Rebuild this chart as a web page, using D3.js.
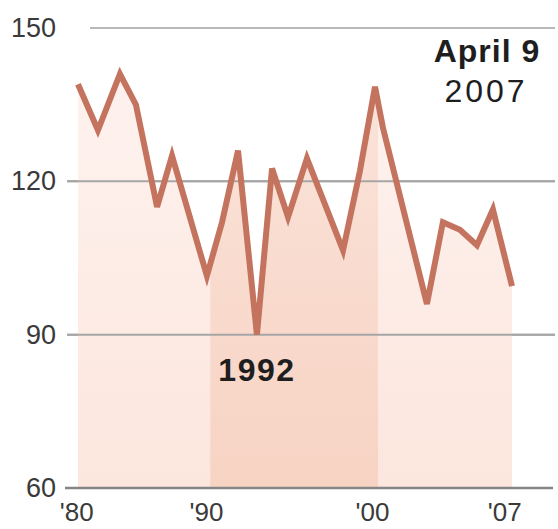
<!DOCTYPE html>
<html>
<head>
<meta charset="utf-8">
<script src="https://cdn.jsdelivr.net/npm/d3@7"></script>
<style>
  html, body { margin: 0; padding: 0; background: #ffffff; }
  svg { display: block; }
  text { font-family: "Liberation Sans", Arial, sans-serif; }
</style>
</head>
<body>
<svg id="chart" width="558" height="529"></svg>
<script>
// Index readings (decimal year, value)
const years  = [1982.0, 1983.16, 1984.44, 1985.37, 1986.6, 1987.47, 1989.5, 1990.38, 1991.31, 1992.41,
                1993.29, 1994.22, 1995.32, 1997.42, 1998.4, 1999.28, 1999.74, 2002.3, 2003.23, 2004.22,
                2005.21, 2006.14, 2007.25];
const values = [139, 130, 141, 135, 115, 125, 101.5, 112, 126, 90,
                122.5, 113, 124.5, 106.5, 122, 138.5, 130.5, 96, 112, 110.5,
                107.5, 114.5, 99.5];

// Highlighted period
const bandYears = [1989.7, 1999.45];

// Axis ticks
const yTicks = [60, 90, 120, 150];
const xTickYears  = [1981.9, 1989.45, 1999.1, 2006.8];
const xTickLabels = ["'80", "'90", "'00", "'07"];

// Annotations
const lowLabel = "1992";
const lowIndex = 9;
const dateLines = ["April 9", "2007"];

const data = years.map((yr, i) => ({ year: yr, value: values[i] }));

const svg = d3.select("#chart");

const x = d3.scaleLinear().domain([years[0], years[years.length - 1]]).range([78, 512]);
const y = d3.scaleLinear().domain([60, 150]).range([488, 28]);

// Gradients for the area fill
const defs = svg.append("defs");
const g1 = defs.append("linearGradient").attr("id", "paleFill").attr("x1", 0).attr("y1", 0).attr("x2", 0).attr("y2", 1);
g1.append("stop").attr("offset", "0%").attr("stop-color", "#fef2ee");
g1.append("stop").attr("offset", "100%").attr("stop-color", "#fce6de");
const g2 = defs.append("linearGradient").attr("id", "bandFill").attr("x1", 0).attr("y1", 0).attr("x2", 0).attr("y2", 1);
g2.append("stop").attr("offset", "0%").attr("stop-color", "#fbe5dc");
g2.append("stop").attr("offset", "100%").attr("stop-color", "#f7d3c3");

const area = d3.area()
  .x(d => x(d.year))
  .y0(y(60))
  .y1(d => y(d.value));

defs.append("clipPath").attr("id", "areaClip")
  .append("path").attr("d", area(data));

// Gridlines
svg.append("g").selectAll("line")
  .data(yTicks.filter(t => t !== 60))
  .join("line")
  .attr("x1", d => d === 150 ? 90 : 67)
  .attr("x2", 555)
  .attr("y1", d => y(d))
  .attr("y2", d => y(d))
  .attr("stroke", d => d === 150 ? "#b8b8b8" : "#a6a6a6")
  .attr("stroke-width", 2);

// Area under the line
svg.append("path")
  .attr("d", area(data))
  .attr("fill", "url(#paleFill)");

// Highlighted period, only below the line
svg.append("rect")
  .attr("clip-path", "url(#areaClip)")
  .attr("x", x(bandYears[0]))
  .attr("width", x(bandYears[1]) - x(bandYears[0]))
  .attr("y", y(150))
  .attr("height", y(60) - y(150))
  .attr("fill", "url(#bandFill)");

// Gridlines over the fill
svg.append("g").selectAll("line")
  .data(yTicks.filter(t => t !== 60 && t !== 150))
  .join("line")
  .attr("x1", 67)
  .attr("x2", 555)
  .attr("y1", d => y(d))
  .attr("y2", d => y(d))
  .attr("stroke", "#a6a6a6")
  .attr("stroke-width", 2);

// Baseline
svg.append("line")
  .attr("x1", 65).attr("x2", 553)
  .attr("y1", y(60)).attr("y2", y(60))
  .attr("stroke", "#858585")
  .attr("stroke-width", 2.5);

// Index line
svg.append("path")
  .datum(data)
  .attr("d", d3.line().x(d => x(d.year)).y(d => y(d.value)))
  .attr("fill", "none")
  .attr("stroke", "#c4735f")
  .attr("stroke-width", 6)
  .attr("stroke-linejoin", "miter")
  .attr("stroke-linecap", "butt");

// Y axis labels
const yAxis = d3.axisLeft(y).tickValues(yTicks).tickSize(0).tickPadding(0).tickFormat(d3.format("d"));
svg.append("g")
  .attr("transform", "translate(56,0)")
  .call(yAxis)
  .call(g => g.select(".domain").remove())
  .call(g => g.selectAll("text")
    .attr("font-family", "Liberation Sans, Arial, sans-serif")
    .attr("font-size", 27)
    .attr("fill", "#3a3a3a"));

// X axis labels
const xAxis = d3.axisBottom(x).tickValues(xTickYears).tickSize(0).tickPadding(0)
  .tickFormat((d, i) => xTickLabels[i]);
svg.append("g")
  .attr("transform", "translate(0,503)")
  .call(xAxis)
  .call(g => g.select(".domain").remove())
  .call(g => g.selectAll("text")
    .attr("font-family", "Liberation Sans, Arial, sans-serif")
    .attr("font-size", 26)
    .attr("fill", "#3a3a3a"));

// Low-point label
svg.append("text")
  .attr("x", x(years[lowIndex]))
  .attr("y", y(values[lowIndex]) + 46)
  .attr("text-anchor", "middle")
  .attr("font-size", 32)
  .attr("font-weight", "bold")
  .attr("letter-spacing", 1.5)
  .attr("fill", "#1e1e1e")
  .text(lowLabel);

// Date of latest reading
svg.append("text")
  .attr("x", 487)
  .attr("y", 62)
  .attr("text-anchor", "middle")
  .attr("font-size", 32)
  .attr("font-weight", "bold")
  .attr("letter-spacing", 1)
  .attr("fill", "#1e1e1e")
  .text(dateLines[0]);
svg.append("text")
  .attr("x", 486)
  .attr("y", 102)
  .attr("text-anchor", "middle")
  .attr("font-size", 32)
  .attr("letter-spacing", 3)
  .attr("fill", "#1e1e1e")
  .text(dateLines[1]);
</script>
</body>
</html>
